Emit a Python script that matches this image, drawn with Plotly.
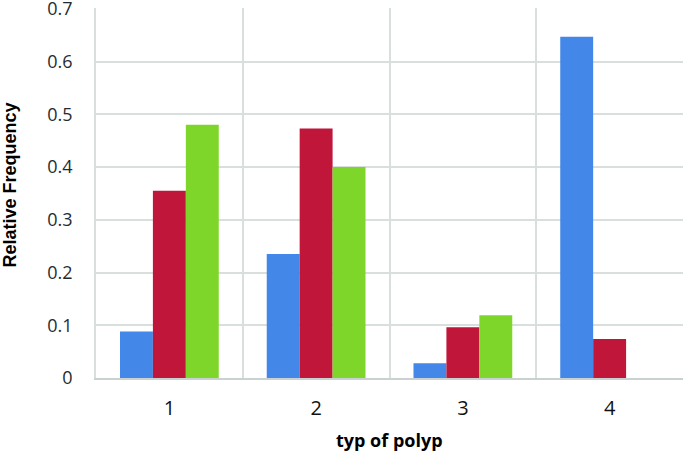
import plotly.graph_objects as go

categories = ["1", "2", "3", "4"]
series_blue = [0.088, 0.235, 0.028, 0.647]
series_red = [0.355, 0.473, 0.096, 0.074]
series_green = [0.48, 0.40, 0.119, 0.0]
y_ticks = [0, 0.1, 0.2, 0.3, 0.4, 0.5, 0.6, 0.7]
y_tick_labels = ["0", "0.1", "0.2", "0.3", "0.4", "0.5", "0.6", "0.7"]

fig = go.Figure()
for vals, col in [(series_blue, "#4387e8"), (series_red, "#c0163a"), (series_green, "#7fd62b")]:
    fig.add_trace(go.Bar(x=categories, y=vals, marker=dict(color=col, line=dict(width=0))))

grid = "#d9dfdd"
fig.update_layout(
    width=685, height=452,
    margin=dict(l=96, r=2, t=8, b=74, autoexpand=False),
    paper_bgcolor="white", plot_bgcolor="white",
    showlegend=False,
    barmode="group", bargap=0.327, bargroupgap=0,
    font=dict(family="Open Sans", color="#1a1a1a"),
    xaxis=dict(
        type="category", tickson="boundaries", showgrid=True, gridcolor=grid, gridwidth=1.5,
        ticks="", ticklabelstandoff=11,
        tickfont=dict(size=20, family="Open Sans", color="#111111"),
        showline=True, linecolor="#c9d1d1", linewidth=1.5,
        range=[-0.5, 3.5],
    ),
    yaxis=dict(
        range=[0, 0.7015], tickvals=y_ticks, ticktext=y_tick_labels,
        showgrid=True, gridcolor=grid, gridwidth=1.5,
        ticks="outside", ticklen=18, tickcolor="rgba(0,0,0,0)",
        tickfont=dict(size=18, family="Open Sans", color="#1f2d33"),
        ticklabeloverflow="allow",
        showline=True, linecolor=grid, linewidth=1.5, zeroline=False,
    ),
    annotations=[
        dict(text="<b>Relative Frequency</b>", xref="paper", yref="paper",
             x=-0.1465, y=0.52, xanchor="center", yanchor="middle", textangle=-90,
             showarrow=False, font=dict(size=18, family="Liberation Sans", color="#000")),
        dict(text="<b>typ of polyp</b>", xref="paper", yref="paper",
             x=0.5, y=-0.1676, xanchor="center", yanchor="middle",
             showarrow=False, font=dict(size=18, family="Open Sans", color="#000")),
    ],
)
fig.write_html("out.html", config={"displayModeBar": False},
               post_script="document.body.style.margin='0';document.body.style.padding='0';")
